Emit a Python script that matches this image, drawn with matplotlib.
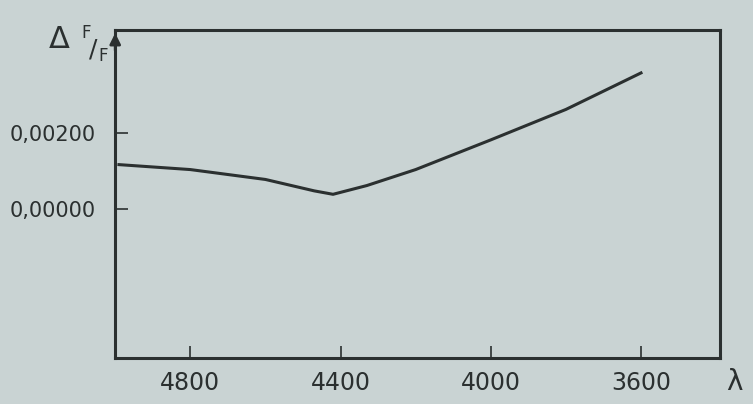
import matplotlib.pyplot as plt
import numpy as np

# wavelength (angstrom) and relative change dF/F
wavelength = [4990, 4800, 4600, 4470, 4420, 4330, 4200, 4000, 3800, 3600]
dF_F = [0.00117, 0.00104, 0.00078, 0.00048, 0.00039, 0.00062, 0.00104, 0.00182, 0.00262, 0.00358]

x_ticks = [4800, 4400, 4000, 3600]
x_labels = ["4800", "4400", "4000", "3600"]
y_ticks = [0.0, 0.002]
y_labels = ["0,00000", "0,00200"]

bg = "#c9d3d3"
ink = "#2b3030"

fig = plt.figure(figsize=(7.53, 4.04), dpi=100, facecolor=bg)
ax = fig.add_axes([0.153, 0.115, 0.803, 0.81], facecolor=bg)

ax.plot(wavelength, dF_F, color=ink, lw=2.2)

ax.set_xlim(5000, 3390)
ax.set_ylim(-0.0039, 0.0047)

ax.set_xticks(x_ticks)
ax.set_xticklabels(x_labels)
ax.set_yticks(y_ticks)
ax.set_yticklabels(y_labels)
ax.tick_params(axis="both", direction="in", length=9, width=1.2, colors=ink,
               labelsize=15, labelcolor=ink)
ax.tick_params(axis="x", pad=10, labelsize=17)
ax.tick_params(axis="y", pad=14)

for s in ax.spines.values():
    s.set_color(ink)
    s.set_linewidth(2.2)

# arrow at top of y axis
ax.annotate("", xy=(0, 1.0), xytext=(0, 0.93), xycoords="axes fraction",
            arrowprops=dict(arrowstyle="-|>", color=ink, lw=2, mutation_scale=16))

fig.text(0.065, 0.88, "Δ", fontsize=22, color=ink)
fig.text(0.108, 0.905, "F", fontsize=12, color=ink)
fig.text(0.118, 0.86, "/", fontsize=18, color=ink)
fig.text(0.13, 0.85, "F", fontsize=12, color=ink)
fig.text(0.975, 0.035, "λ", fontsize=20, color=ink, ha="center")

fig.savefig("out.png", dpi=100, facecolor=bg)
